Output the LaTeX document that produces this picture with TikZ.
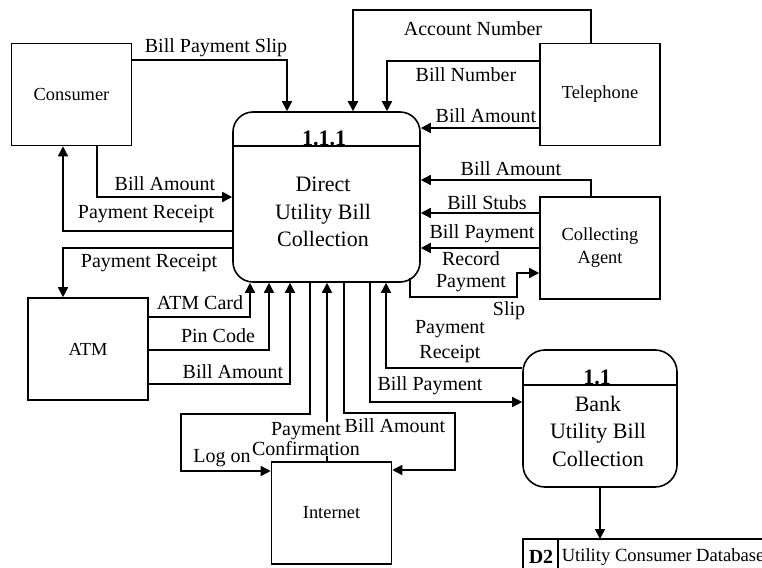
\documentclass[tikz,border=0pt]{standalone}
\usepackage{fontspec}
\setmainfont{Liberation Serif}
\usetikzlibrary{positioning}
\usetikzlibrary{arrows.meta}

\begin{document}
\begin{tikzpicture}[x=0.5pt,y=-0.5pt,>={Triangle[length=5pt,width=5pt]},
	line width=0.8pt,
	ext node/.style={rectangle,draw,minimum width=60pt,minimum height=51pt,
		align=center,font=\fontsize{9.2}{11.5}\selectfont},
	proc node/.style={rectangle,draw,rounded corners=10pt},
	proc id/.style={font=\bfseries\fontsize{11}{12}\selectfont,anchor=base,inner sep=0pt},
	proc text/.style={align=center,font=\fontsize{11}{13.75}\selectfont},
	flow/.style={align=center,inner sep=0pt,font=\fontsize{10}{11}\selectfont}]

	\clip (0,0) rectangle (762,568);

	% external entities
	\node[ext node] (consumer) at (71.5,94.5) {Consumer};
	\node[ext node] (telephone) at (600,94.5) {Telephone};
	\node[ext node] (agent) at (600,248) {Collecting\\Agent};
	\node[ext node] (atm) at (88,349) {ATM};
	\node[ext node] (internet) at (331.5,513) {Internet};

	% processes
	\node[proc node,minimum width=93.5pt,minimum height=85pt] (direct) at (326.5,197) {};
	\draw (direct.west |- 0,146) -- (direct.east |- 0,146);
	\node[proc id] (direct id) at (324,145) {1.1.1};
	\node[proc text] (direct txt) at (323,212) {Direct\\Utility Bill\\Collection};

	\node[proc node,minimum width=77pt,minimum height=68.5pt,rounded corners=11pt] (bank) at (600,418.5) {};
	\draw (bank.west |- 0,385) -- (bank.east |- 0,385);
	\node[proc id] (bank id) at (597,384) {1.1};
	\node[proc text] (bank txt) at (598,431) {Bank\\Utility Bill\\Collection};

	% data store
	\coordinate (store) at (600,539);
	\draw (762,539) -- (523,539) -- (523,568);
	\draw (558,539) -- (558,568);
	\node[font=\bfseries\fontsize{10}{12}\selectfont] (store id) at (541,557) {D2};
	\node[anchor=west,inner sep=0pt,font=\fontsize{9.3}{11}\selectfont] (store txt) at (561,557) {Utility Consumer Database};

	% flows at the top
	\draw[->] (consumer.east |- 0,60) -| (direct.north -| 287,0);
	\node[flow] (f1) at (216,48) {Bill Payment Slip};
	\draw[->,line width=1.2pt] (telephone.north -| 591,0) -- ++(0,-33) -| (direct.north -| 353,0);
	\node[flow] (f2) at (473,29) {Account Number};
	\draw[->] (telephone.west |- 0,61) -| (direct.north -| 387,0);
	\node[flow] (f3) at (466,75) {Bill Number};
	\draw[->] (telephone.west |- 0,128) -- (direct.east |- 0,128);
	\node[flow] (f4) at (486,116) {Bill Amount};

	% collecting agent
	\draw[->] (agent.north -| 591,0) |- (direct.east |- 0,180);
	\node[flow] (f5) at (511,169) {Bill Amount};
	\draw[->] (agent.west |- 0,213) -- (direct.east |- 0,213);
	\node[flow] (f6) at (487,203) {Bill Stubs};
	\draw[->] (agent.west |- 0,248) -- (direct.east |- 0,248);
	\node[flow] (f7) at (482,234) {Bill Payment};
	\draw[->] ([xshift=-5.5pt,yshift=2.5pt]direct.south east) |- (517,297) |- (agent.west |- 0,273);
	\node[flow,font=\fontsize{10}{11}\selectfont] (f8) at (471,272) {Record\\Payment};
	\node[flow] (f8b) at (509,311) {Slip};

	% consumer
	\draw[->] (consumer.south -| 97,0) |- (direct.west |- 0,197);
	\node[flow] (f9) at (165,184) {Bill Amount};
	\draw[->] (direct.west |- 0,231) -| (consumer.south -| 63,0);
	\node[flow] (f10) at (146,214) {Payment Receipt};

	% atm
	\draw[->] (direct.west |- 0,248) -| (atm.north -| 63,0);
	\node[flow] (f11) at (149,263) {Payment Receipt};
	\draw[->] (atm.east |- 0,317) -| (direct.south -| 250,0);
	\node[flow] (f12) at (200,303) {ATM Card};
	\draw[->] (atm.east |- 0,350) -| (direct.south -| 269,0);
	\node[flow] (f13) at (218,336) {Pin Code};
	\draw[->] (atm.east |- 0,384) -| (direct.south -| 290,0);
	\node[flow] (f14) at (233,372) {Bill Amount};

	% internet
	\draw[->] (direct.south -| 310,0) |- (181,414) |- (internet.west |- 0,471);
	\node[flow] (f15) at (222,458) {Log on};
	\draw[->] (internet.north -| 327,0) -- (direct.south -| 327,0);
	\node[flow,fill=white,font=\fontsize{10}{10}\selectfont] (f16) at (306,439) {Payment\\Confirmation};
	\draw[->] (direct.south -| 344,0) |- (455,413) |- (internet.east |- 0,470);
	\node[flow] (f17) at (395,426) {Bill Amount};

	% bank
	\draw[->] (direct.south -| 370,0) |- (bank.west |- 0,402);
	\node[flow] (f18) at (430,386) {Bill Payment};
	\draw[->] (bank.west |- 0,368) -| (direct.south -| 386,0);
	\node[flow,font=\fontsize{10}{12.5}\selectfont] (f19) at (450,342) {Payment\\Receipt};
	\draw[->] (bank.south) -- (store);
\end{tikzpicture}
\end{document}
